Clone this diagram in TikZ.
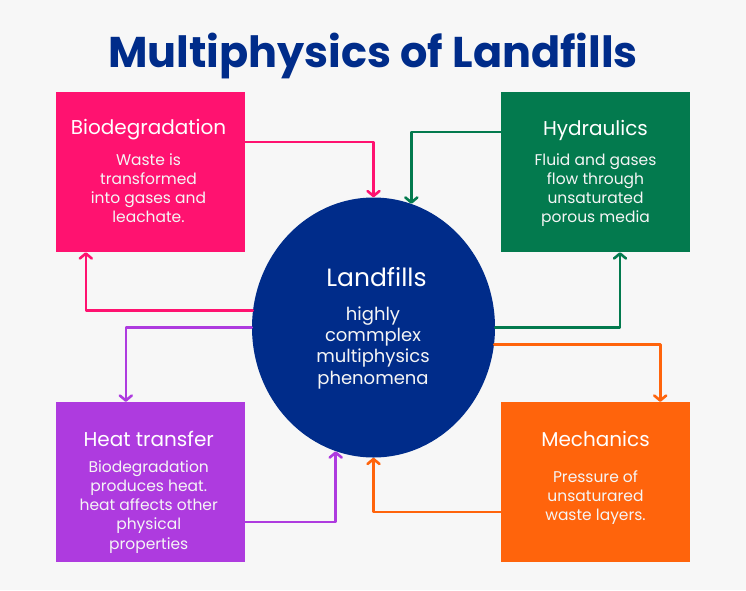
\documentclass[tikz,border=0pt]{standalone}
\usepackage{fontspec}
\setmainfont{Poppins}
\usetikzlibrary{arrows.meta,shapes.geometric}
\definecolor{bgc}{RGB}{247,247,247}
\definecolor{navyc}{RGB}{0,44,138}
\definecolor{pinkc}{RGB}{255,18,112}
\definecolor{greenc}{RGB}{3,122,78}
\definecolor{purplec}{RGB}{174,59,223}
\definecolor{orangec}{RGB}{255,100,12}
\begin{document}
\begin{tikzpicture}[x=1pt,y=-1pt,
  box/.style={draw=none,minimum width=189pt,minimum height=160pt,inner sep=0pt},
  boxtitle/.style={text=white,anchor=base,inner sep=0pt,font=\fontsize{20}{24}\selectfont},
  boxbody/.style={text=white!92!gray,align=center,inner sep=0pt,font=\fontsize{15.5}{19.2}\selectfont},
  conn/.style={line width=2.6pt,line cap=round,line join=round,-{Straight Barb[length=5pt,width=12pt,round]}}
]
\fill[bgc] (0,0) rectangle (746,590);
\useasboundingbox (0,0) rectangle (746,590);

\node[anchor=base,inner sep=0pt,text=navyc,font=\fontsize{43}{50}\selectfont\bfseries] (title) at (373,67) {Multiphysics of Landfills};

\node[box,fill=pinkc] (bio) at (150.5,172) {};
\node[box,fill=greenc] (hyd) at (595.5,172) {};
\node[box,fill=purplec] (heat) at (150.5,482) {};
\node[box,fill=orangec] (mech) at (595.5,482) {};
\node[ellipse,fill=navyc,minimum width=243pt,minimum height=260pt,inner sep=0pt] (land) at (373.5,327.5) {};

\node[boxtitle] (biot) at (148.5,134.5) {Biodegradation};
\node[boxbody] (biob) at (148.5,190) {\strut Waste is\\\strut transformed\\\strut into gases and\\\strut leachate.};

\node[boxtitle] (hydt) at (595.5,135) {Hydraulics};
\node[boxbody] (hydb) at (595.5,190) {\strut Fluid and gases\\\strut flow through\\\strut unsaturated\\\strut porous media};

\node[boxtitle] (heatt) at (148.7,446.7) {Heat transfer};
\node[boxbody] (heatb) at (148.7,506.8) {\strut Biodegradation\\\strut produces heat.\\\strut heat affects other\\\strut physical\\\strut properties};

\node[boxtitle] (mecht) at (595.5,446) {Mechanics};
\node[boxbody] (mechb) at (595.5,497.8) {\strut Pressure of\\\strut unsaturared\\\strut waste layers.};

\node[anchor=base,inner sep=0pt,text=white,font=\fontsize{25}{30}\selectfont] (landt) at (376.5,286) {Landfills};
\node[align=center,inner sep=0pt,text=white!92!gray,font=\fontsize{18}{21.3}\selectfont] (landb) at (373,347.8) {\strut highly\\\strut commplex\\\strut multiphysics\\\strut phenomena};

% connectors
\draw[conn,pinkc] ([yshift=30pt]bio.east) -| (land.north);
\draw[conn,greenc] ([yshift=40pt]hyd.west) -| (land.73);
\draw[conn,pinkc] (land.172) -| ([xshift=30pt]bio.south west);
\draw[conn,purplec] (land.west) -| ([xshift=70pt]heat.north west);
\draw[conn,purplec] ([yshift=-40pt]heat.east) -| (land.253);
\draw[conn,orangec] ([yshift=-30pt]mech.west) -| (land.south);
\draw[conn,greenc] (land.east) -| ([xshift=24.5pt]hyd.south);
\draw[conn,orangec] (land.352) -| ([xshift=-30pt]mech.north east);
\end{tikzpicture}
\end{document}
